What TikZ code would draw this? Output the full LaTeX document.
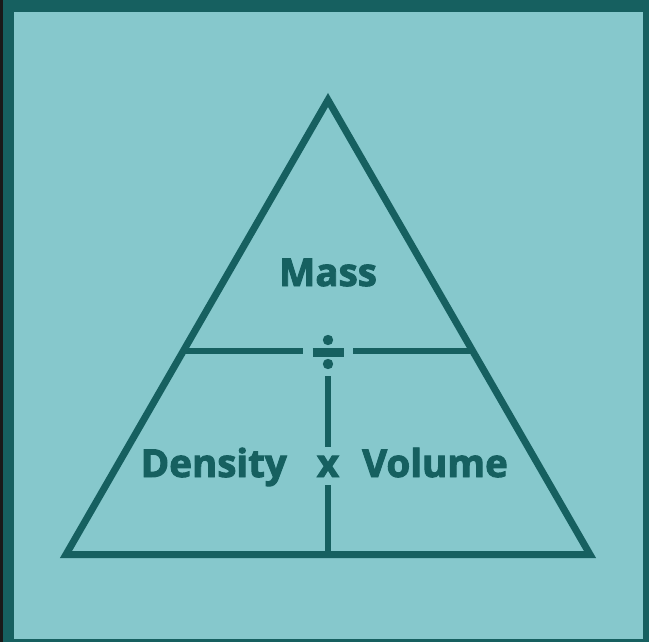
\documentclass[tikz,border=0pt]{standalone}
\usepackage{fontspec}
\setmainfont{Open Sans}[BoldFeatures={FakeBold=2.5}]
\usetikzlibrary{positioning}
\definecolor{tealdark}{RGB}{22,96,96}
\definecolor{teallight}{RGB}{134,200,204}

\begin{document}
\begin{tikzpicture}[
    x=1pt, y=-1pt,
    label/.style = {
        inner sep=0pt,
        anchor=base,
        text=tealdark,
        font=\fontsize{38.5}{40}\selectfont\bfseries
    },
    side/.style = {draw=tealdark, line width=7pt, miter limit=10},
    bar/.style = {draw=tealdark, line width=6pt}
]
\useasboundingbox (0,0) rectangle (649,642);

%% Frame
\fill[black!90] (0,0) rectangle (649,642);
\fill[tealdark] (3,0) rectangle (649,642);
\fill[teallight] (14,12) rectangle (643,639);

%% Triangle corners
\coordinate (apex) at (328,100);
\coordinate (bl) at (66,554.5);
\coordinate (br) at (590,554.5);
\draw[side] (apex) -- (bl) -- (br) -- cycle;

%% Division lines
\coordinate (hl) at (183.5,351);
\coordinate (hr) at (472.5,351);
\draw[bar] (hl) -- (303,351);
\draw[bar] (353,351) -- (hr);
\draw[bar] (328,376) -- (328,447);
\draw[bar] (328,485) -- (328,554.5);

%% Divide sign
\draw[tealdark, line width=8.5pt] (312.5,352.5) -- (343.5,352.5);
\fill[tealdark] (328,340) circle (5.2);
\fill[tealdark] (328,364) circle (5.2);

%% Labels
\node[label] (mass) at (328,286) {Mass};
\node[label] (times) at (328,477) {x};
\node[label, anchor=base east] (density) at (287,477) {Density};
\node[label, anchor=base west] (volume) at (362,477) {Volume};

\end{tikzpicture}
\end{document}
